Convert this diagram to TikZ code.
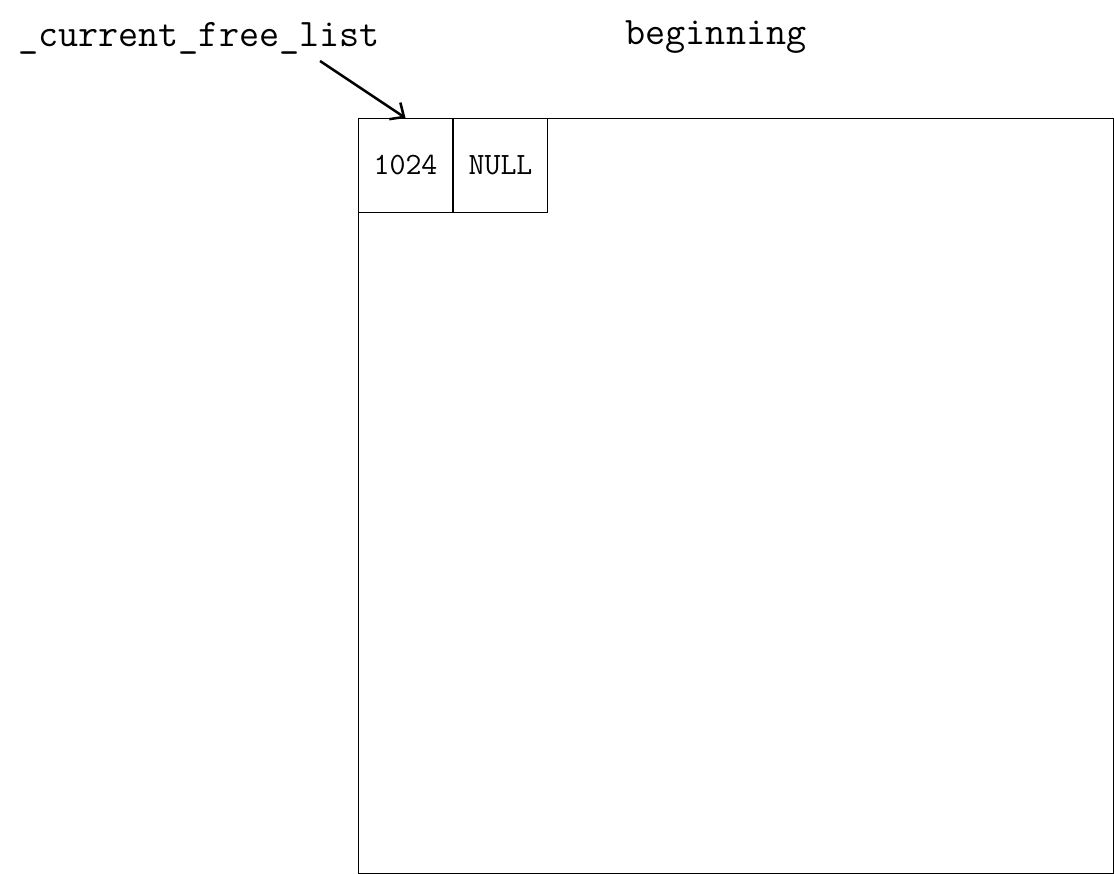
\documentclass[tikz,border=0pt]{standalone}
\usepackage{tikz}
\usetikzlibrary{arrows.meta,positioning}

\tikzset{
    cell/.style={draw, line width=1pt, minimum width=94pt, minimum height=94pt,
        inner sep=0pt, font=\ttfamily\fontsize{31}{32}\selectfont},
    toplabel/.style={inner sep=0pt, font=\ttfamily\fontsize{39}{40}\selectfont},
    pointer/.style={line width=2.5pt, -{Straight Barb[length=11pt,width=20pt,line width=2.5pt]}}
}

\begin{document}
\begin{tikzpicture}[x=1pt,y=-1pt]
\useasboundingbox (0,0) rectangle (1114,874);

% heap block
\node[draw, line width=1pt, minimum width=755pt, minimum height=755pt,
    inner sep=0pt, anchor=north west] (heap) at (358,118) {};

% first free chunk: size and next pointer
\node[cell, anchor=north west] (size) at (heap.north west) {1024};
\node[cell, right=0pt of size] (next) {NULL};

% labels
\node[toplabel, anchor=base west] (freelist) at (18,47) {\_current\_free\_list};
\node[toplabel, anchor=base] (title) at (716,45) {beginning};

% pointer to the free list head
\coordinate (ptrstart) at (320,61);
\draw[pointer] (ptrstart) -- (size.north);
\end{tikzpicture}
\end{document}
